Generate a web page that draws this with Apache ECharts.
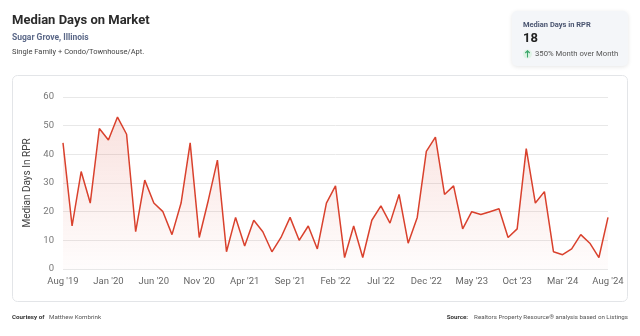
<!DOCTYPE html>
<html>
<head>
<meta charset="utf-8">
<script src="https://cdn.jsdelivr.net/npm/echarts@6/dist/echarts.min.js"></script>
<style>
  html, body { margin: 0; padding: 0; background: #fff; }
  #chart { width: 640px; height: 336px; }
</style>
</head>
<body>
<div id="chart"></div>
<script>
// Monthly median days on market, Aug 2019 – Aug 2024
const months = [
  "Aug '19","Sep '19","Oct '19","Nov '19","Dec '19",
  "Jan '20","Feb '20","Mar '20","Apr '20","May '20",
  "Jun '20","Jul '20","Aug '20","Sep '20","Oct '20",
  "Nov '20","Dec '20","Jan '21","Feb '21","Mar '21",
  "Apr '21","May '21","Jun '21","Jul '21","Aug '21",
  "Sep '21","Oct '21","Nov '21","Dec '21","Jan '22",
  "Feb '22","Mar '22","Apr '22","May '22","Jun '22",
  "Jul '22","Aug '22","Sep '22","Oct '22","Nov '22",
  "Dec '22","Jan '23","Feb '23","Mar '23","Apr '23",
  "May '23","Jun '23","Jul '23","Aug '23","Sep '23",
  "Oct '23","Nov '23","Dec '23","Jan '24","Feb '24",
  "Mar '24","Apr '24","May '24","Jun '24","Jul '24",
  "Aug '24"
];

const medianDays = [
  44, 15, 34, 23, 49,
  45, 53, 47, 13, 31,
  23, 20, 12, 23, 44,
  11, 24, 38, 6, 18,
  8, 17, 13, 6, 11,
  18, 10, 15, 7, 23,
  29, 4, 15, 4, 17,
  22, 16, 26, 9, 18,
  41, 46, 26, 29, 14,
  20, 19, 20, 21, 11,
  14, 42, 23, 27, 6,
  5, 7, 12, 9, 4,
  18
];

const yTicks = [0, 10, 20, 30, 40, 50, 60];

const latest = medianDays[medianDays.length - 1];
const prev = medianDays[medianDays.length - 2];
const momPct = Math.round((latest - prev) / prev * 100);

const chart = echarts.init(document.getElementById('chart'), null, { renderer: 'canvas' });

const lineColor = '#d9412d';
const font = 'Roboto, "Noto Sans", sans-serif';

function label(x, y, text, fill, fontSpec, align) {
  return {
    type: 'text', x: x, y: y, silent: true,
    style: {
      text: text, fill: fill, font: fontSpec + ' ' + font,
      textAlign: align || 'left', textVerticalAlign: 'top'
    }
  };
}

chart.setOption({
  animation: false,
  textStyle: { fontFamily: font },
  grid: { left: 63, right: 32, top: 97, bottom: 67, containLabel: false },
  xAxis: {
    type: 'category',
    data: months,
    boundaryGap: false,
    axisLine: { show: false },
    axisTick: { show: false },
    axisLabel: {
      interval: 4,
      color: '#666',
      fontSize: 9.5,
      margin: 8,
      fontFamily: font
    },
    splitLine: { show: false }
  },
  yAxis: {
    type: 'value',
    min: yTicks[0],
    max: yTicks[yTicks.length - 1],
    interval: 10,
    name: 'Median Days In RPR',
    nameLocation: 'middle',
    nameRotate: 90,
    nameGap: 30,
    nameTextStyle: { color: '#444', fontSize: 10, fontFamily: font },
    axisLine: { show: false },
    axisTick: { show: false },
    axisLabel: { color: '#777', fontSize: 9.5, margin: 9, fontFamily: font },
    splitLine: { lineStyle: { color: '#e8e8e8', width: 1 } }
  },
  series: [{
    type: 'line',
    data: medianDays,
    symbol: 'none',
    lineStyle: { color: lineColor, width: 1.5 },
    itemStyle: { color: lineColor },
    areaStyle: {
      color: new echarts.graphic.LinearGradient(0, 0, 0, 1, [
        { offset: 0, color: 'rgba(217,65,45,0.22)' },
        { offset: 1, color: 'rgba(217,65,45,0.02)' }
      ])
    }
  }],
  graphic: [
    // chart panel
    {
      type: 'rect', z: -10, silent: true,
      shape: { x: 12.5, y: 75.5, width: 615, height: 226, r: 5 },
      style: { fill: 'rgba(255,255,255,0)', stroke: '#e3e5e8', lineWidth: 1 }
    },
    // headline
    label(12, 14, 'Median Days on Market', '#2b2b2b', 'bold 13px'),
    label(12, 33, 'Sugar Grove, Illinois', '#5b6888', 'bold 8.5px'),
    label(12, 48.5, 'Single Family + Condo/Townhouse/Apt.', '#444', '7.5px'),
    // summary card
    {
      type: 'rect', silent: true,
      shape: { x: 512, y: 11, width: 116, height: 55, r: 5 },
      style: {
        fill: '#f4f6f9',
        shadowBlur: 4, shadowColor: 'rgba(0,0,0,0.10)', shadowOffsetY: 1
      }
    },
    label(523, 21, 'Median Days in RPR', '#4a5570', 'bold 7.5px'),
    label(523, 32, String(latest), '#222', 'bold 13px'),
    {
      type: 'circle', silent: true,
      shape: { cx: 527.5, cy: 54, r: 4.5 },
      style: { fill: '#dff3e6' }
    },
    {
      type: 'polyline', silent: true,
      shape: { points: [[527.5, 57.5], [527.5, 50.8]] },
      style: { stroke: '#3aa66a', lineWidth: 1.1, fill: null }
    },
    {
      type: 'polyline', silent: true,
      shape: { points: [[525.3, 53], [527.5, 50.8], [529.7, 53]] },
      style: { stroke: '#3aa66a', lineWidth: 1.1, fill: null }
    },
    label(535, 50.5, momPct + '% Month over Month', '#555', '7.7px'),
    // footer
    label(12, 314, 'Courtesy of', '#333', 'bold 6.2px'),
    label(49, 314, 'Matthew Kombrink', '#555', '6.2px'),
    label(628, 314, 'Realtors Property Resource® analysis based on Listings', '#555', '6.2px', 'right'),
    label(468, 314, 'Source:', '#333', 'bold 6.2px', 'right')
  ]
});
</script>
</body>
</html>
